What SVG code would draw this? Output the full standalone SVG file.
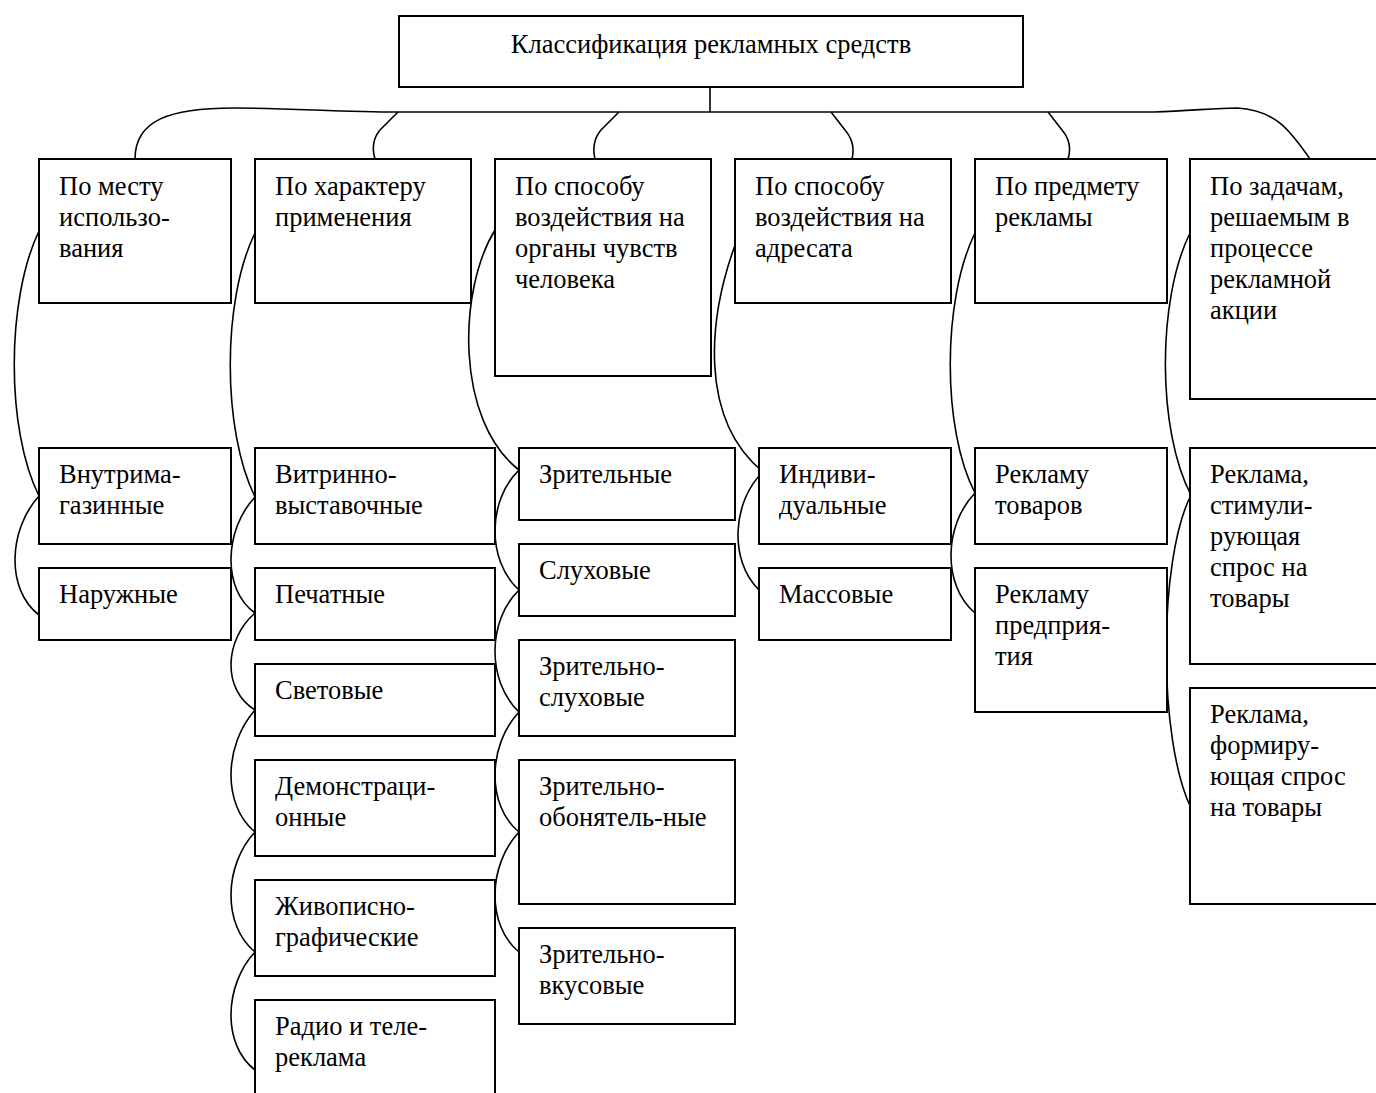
<svg xmlns="http://www.w3.org/2000/svg" width="1376" height="1093" viewBox="0 0 1376 1093">
<style>
rect{fill:#fff;stroke:#000;stroke-width:2}
text{font-family:'Liberation Serif','DejaVu Serif',serif;font-size:26.5px;fill:#000}
.c path{fill:none;stroke:#000;stroke-width:1.6}
</style>
<rect x="0" y="0" width="1376" height="1093" style="stroke:none"/>
<g class="c" id="connectors">
<path d="M710,87 V112"/>
<path d="M398,112 H1154"/>
<path d="M398,112 C340,112 290,108 234,108 C170,108 135,120 135,159"/>
<path d="M1154,112 C1190,111 1215,108 1237,108 C1275,110 1290,130 1310,159"/>
<path d="M398,112 L380,130 Q370,142 375,159"/>
<path d="M619,112 L601,130 Q591,142 595,159"/>
<path d="M831,112 L845,130 Q856,143 852,159"/>
<path d="M1048,112 L1062,130 Q1073,143 1068,159"/>
<path d="M39,231 C6,300 6,430 39,496"/>
<path d="M39,496 C8,530 6,590 39,615"/>
<path d="M255,233 C222,300 222,430 255,497"/>
<path d="M255,497 C224,530 222,590 255,613"/>
<path d="M255,613 C224,640 222,690 255,710"/>
<path d="M255,710 C224,745 222,805 255,832"/>
<path d="M255,832 C224,865 222,925 255,952"/>
<path d="M255,952 C224,985 222,1045 255,1070"/>
<path d="M495,230 C458,290 455,420 519,470"/>
<path d="M519,470 C488,500 486,560 519,590"/>
<path d="M519,590 C488,620 486,680 519,712"/>
<path d="M519,712 C488,745 486,805 519,832"/>
<path d="M519,832 C488,865 486,925 519,952"/>
<path d="M740,232 C705,320 700,420 763,472"/>
<path d="M763,472 C733,500 728,560 759,590"/>
<path d="M975,233 C942,300 942,430 975,493"/>
<path d="M975,493 C944,525 942,585 975,613"/>
<path d="M1190,233 C1157,300 1157,430 1191,495"/>
<path d="M1191,495 C1158,560 1158,740 1191,808"/>
</g>
<g id="root"><rect x="399" y="16" width="624" height="71"/><text x="711" y="53" text-anchor="middle">Классификация рекламных средств</text></g>
<g id="n1"><rect x="39" y="159" width="192" height="144"/><text x="59" y="195"><tspan x="59">По месту</tspan><tspan x="59" dy="31">использо-</tspan><tspan x="59" dy="31">вания</tspan></text></g>
<g id="n2"><rect x="255" y="159" width="216" height="144"/><text x="275" y="195"><tspan x="275">По характеру</tspan><tspan x="275" dy="31">применения</tspan></text></g>
<g id="n3"><rect x="495" y="159" width="216" height="217"/><text x="515" y="195"><tspan x="515">По способу</tspan><tspan x="515" dy="31">воздействия на</tspan><tspan x="515" dy="31">органы чувств</tspan><tspan x="515" dy="31">человека</tspan></text></g>
<g id="n4"><rect x="735" y="159" width="216" height="144"/><text x="755" y="195"><tspan x="755">По способу</tspan><tspan x="755" dy="31">воздействия на</tspan><tspan x="755" dy="31">адресата</tspan></text></g>
<g id="n5"><rect x="975" y="159" width="192" height="144"/><text x="995" y="195"><tspan x="995">По предмету</tspan><tspan x="995" dy="31">рекламы</tspan></text></g>
<g id="n6"><rect x="1190" y="159" width="200" height="240"/><text x="1210" y="195"><tspan x="1210">По задачам,</tspan><tspan x="1210" dy="31">решаемым в</tspan><tspan x="1210" dy="31">процессе</tspan><tspan x="1210" dy="31">рекламной</tspan><tspan x="1210" dy="31">акции</tspan></text></g>
<g id="c1a"><rect x="39" y="448" width="192" height="96"/><text y="483"><tspan x="59">Внутрима-</tspan><tspan x="59" dy="31">газинные</tspan></text></g>
<g id="c1b"><rect x="39" y="568" width="192" height="72"/><text y="603"><tspan x="59">Наружные</tspan></text></g>
<g id="c2a"><rect x="255" y="448" width="240" height="96"/><text y="483"><tspan x="275">Витринно-</tspan><tspan x="275" dy="31">выставочные</tspan></text></g>
<g id="c2b"><rect x="255" y="568" width="240" height="72"/><text y="603"><tspan x="275">Печатные</tspan></text></g>
<g id="c2c"><rect x="255" y="664" width="240" height="72"/><text y="699"><tspan x="275">Световые</tspan></text></g>
<g id="c2d"><rect x="255" y="760" width="240" height="96"/><text y="795"><tspan x="275">Демонстраци-</tspan><tspan x="275" dy="31">онные</tspan></text></g>
<g id="c2e"><rect x="255" y="880" width="240" height="96"/><text y="915"><tspan x="275">Живописно-</tspan><tspan x="275" dy="31">графические</tspan></text></g>
<g id="c2f"><rect x="255" y="1000" width="240" height="110"/><text y="1035"><tspan x="275">Радио и теле-</tspan><tspan x="275" dy="31">реклама</tspan></text></g>
<g id="c3a"><rect x="519" y="448" width="216" height="72"/><text y="483"><tspan x="539">Зрительные</tspan></text></g>
<g id="c3b"><rect x="519" y="544" width="216" height="72"/><text y="579"><tspan x="539">Слуховые</tspan></text></g>
<g id="c3c"><rect x="519" y="640" width="216" height="96"/><text y="675"><tspan x="539">Зрительно-</tspan><tspan x="539" dy="31">слуховые</tspan></text></g>
<g id="c3d"><rect x="519" y="760" width="216" height="144"/><text y="795"><tspan x="539">Зрительно-</tspan><tspan x="539" dy="31">обонятель-ные</tspan></text></g>
<g id="c3e"><rect x="519" y="928" width="216" height="96"/><text y="963"><tspan x="539">Зрительно-</tspan><tspan x="539" dy="31">вкусовые</tspan></text></g>
<g id="c4a"><rect x="759" y="448" width="192" height="96"/><text y="483"><tspan x="779">Индиви-</tspan><tspan x="779" dy="31">дуальные</tspan></text></g>
<g id="c4b"><rect x="759" y="568" width="192" height="72"/><text y="603"><tspan x="779">Массовые</tspan></text></g>
<g id="c5a"><rect x="975" y="448" width="192" height="96"/><text y="483"><tspan x="995">Рекламу</tspan><tspan x="995" dy="31">товаров</tspan></text></g>
<g id="c5b"><rect x="975" y="568" width="192" height="144"/><text y="603"><tspan x="995">Рекламу</tspan><tspan x="995" dy="31">предприя-</tspan><tspan x="995" dy="31">тия</tspan></text></g>
<g id="c6a"><rect x="1190" y="448" width="200" height="216"/><text y="483"><tspan x="1210">Реклама,</tspan><tspan x="1210" dy="31">стимули-</tspan><tspan x="1210" dy="31">рующая</tspan><tspan x="1210" dy="31">спрос на</tspan><tspan x="1210" dy="31">товары</tspan></text></g>
<g id="c6b"><rect x="1190" y="688" width="200" height="216"/><text y="723"><tspan x="1210">Реклама,</tspan><tspan x="1210" dy="31">формиру-</tspan><tspan x="1210" dy="31">ющая спрос</tspan><tspan x="1210" dy="31">на товары</tspan></text></g>
</svg>
